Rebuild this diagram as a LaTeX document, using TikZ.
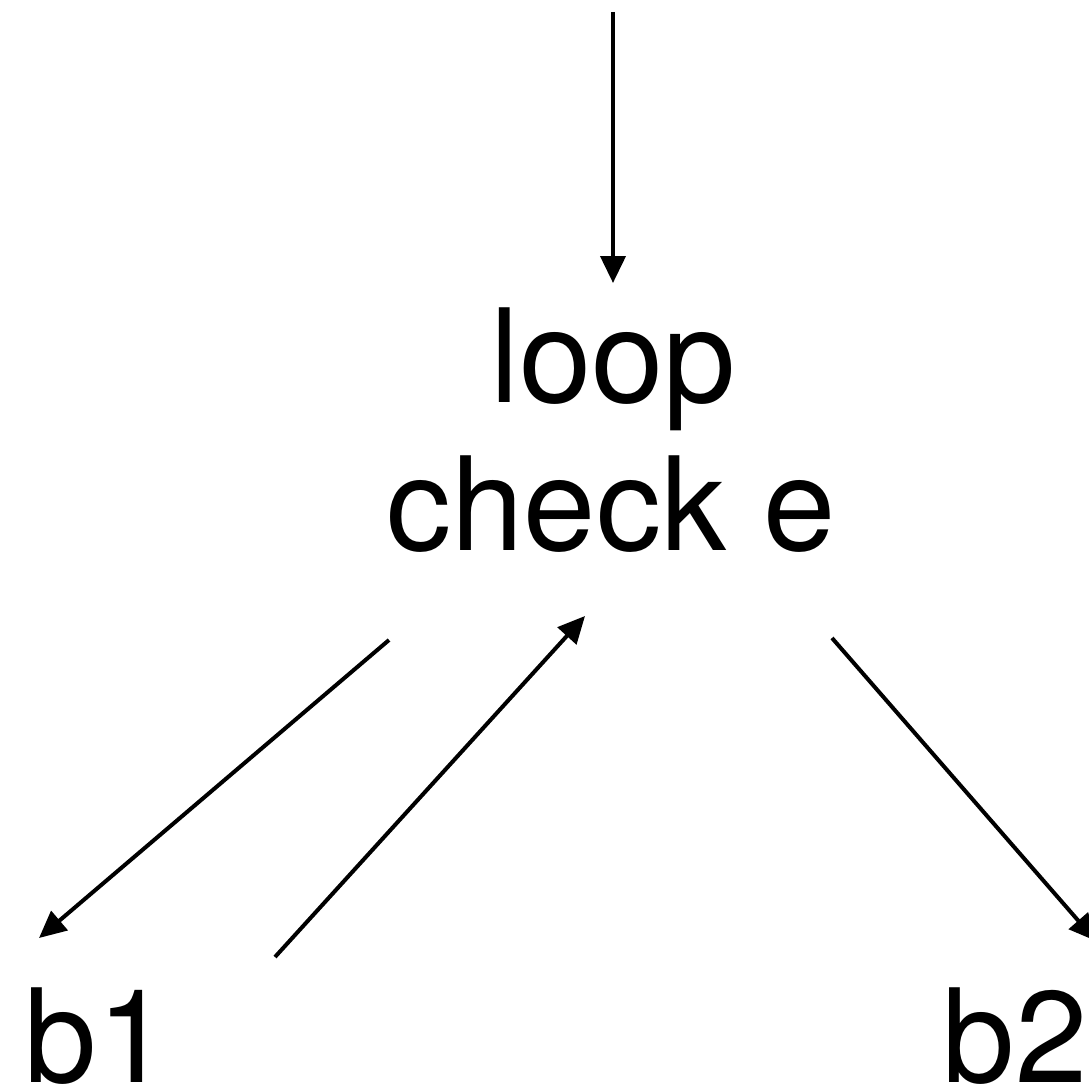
\documentclass[tikz,border=0pt]{standalone}
\usepackage{fontspec}
\setmainfont{TeX Gyre Heros}
\usetikzlibrary{arrows.meta}

\tikzset{
	lbl/.style={inner sep=0pt, anchor=base, font=\fontsize{130}{156}\selectfont},
	edge/.style={-{Triangle[width=25pt,length=27pt]}, line width=4pt}
}

\begin{document}
\begin{tikzpicture}[x=1pt, y=-1pt]
					\useasboundingbox (0,0) rectangle (1088,1089);
					\node (L) at (613,402)  [lbl] {loop};
					\node (C) at (611,550)  [lbl] {check e};
					\node (B1) at (97,1082) [lbl] {b1};
					\node (B2) at (1015,1082) [lbl] {b2};

					% free ends of the arrows
					\coordinate (in)  at (613,12);
					\coordinate (Lt)  at (613,283);
					\coordinate (Cl)  at (389,640);
					\coordinate (B1t) at (39,938);
					\coordinate (B1r) at (275,957);
					\coordinate (Cb)  at (585,616);
					\coordinate (Cr)  at (832,638);
					\coordinate (B2t) at (1096,941);

					% Draw an arrow between the nodes
					\draw[edge] (in) -- (Lt);
					\draw[edge] (Cl) -- (B1t);
					\draw[edge] (B1r) -- (Cb);
					\draw[edge] (Cr) -- (B2t);
				\end{tikzpicture}
\end{document}
